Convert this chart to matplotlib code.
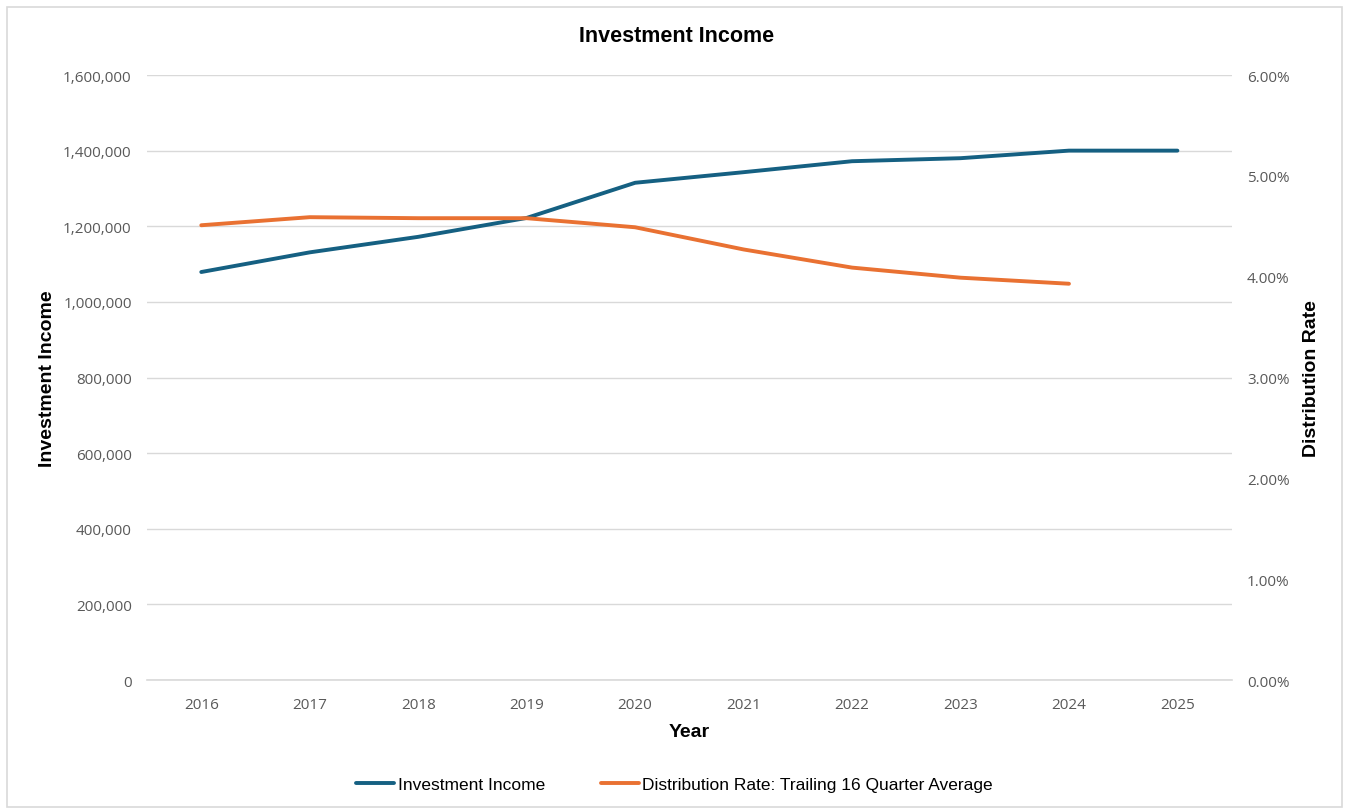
import matplotlib.pyplot as plt
from matplotlib.patches import Rectangle
from matplotlib.ticker import FuncFormatter

# data
years = ['2016', '2017', '2018', '2019', '2020', '2021', '2022', '2023', '2024', '2025']
income = [1079000, 1131000, 1172000, 1222000, 1315000, 1343000, 1372000, 1380000, 1400000, 1400000]
dist_years = ['2016', '2017', '2018', '2019', '2020', '2021', '2022', '2023', '2024']
dist_rate = [4.51, 4.59, 4.58, 4.58, 4.49, 4.27, 4.09, 3.99, 3.93]

blue = '#156082'
orange = '#E97132'
tick_grey = '#595959'
head = ['Liberation Sans', 'DejaVu Sans']

fig = plt.figure(figsize=(13.49, 8.12), dpi=100)
fig.patches.append(Rectangle((0.005, 0.005), 0.99, 0.985, transform=fig.transFigure,
                             fill=False, edgecolor='#d9d9d9', linewidth=1.2))
ax = fig.add_axes([0.109, 0.1613, 0.804, 0.7451])
ax2 = ax.twinx()

x = list(range(len(years)))
ln1, = ax.plot(x, income, color=blue, linewidth=2.8, solid_capstyle='round',
               label='Investment Income')
ln2, = ax2.plot(x[:len(dist_years)], dist_rate, color=orange, linewidth=2.8,
                solid_capstyle='round',
                label='Distribution Rate: Trailing 16 Quarter Average')

ax.set_xlim(-0.5, len(years) - 0.5)
ax.set_ylim(0, 1600000)
ax2.set_ylim(0, 6)
ax.set_yticks(range(0, 1600001, 200000))
ax2.set_yticks(range(0, 7))
ax.yaxis.set_major_formatter(FuncFormatter(lambda v, p: f'{v:,.0f}'))
ax2.yaxis.set_major_formatter(FuncFormatter(lambda v, p: f'{v:.2f}%'))
ax.set_xticks(x)
ax.set_xticklabels(years)

ax.grid(axis='y', color='#d9d9d9', linewidth=1)
ax.axhline(0, color='#d9d9d9', linewidth=1.2, clip_on=False, zorder=0)
ax.set_axisbelow(True)
for a in (ax, ax2):
    for s in a.spines.values():
        s.set_visible(False)
    a.tick_params(length=0, labelsize=11, labelcolor=tick_grey)
    for lab in a.get_xticklabels() + a.get_yticklabels():
        lab.set_family('Open Sans')
ax.tick_params(axis='y', pad=11)
ax2.tick_params(axis='y', pad=11)
ax.tick_params(axis='x', pad=12)

ax.set_xlabel('Year', family=head, fontsize=14, fontweight='bold', labelpad=8)
ax.set_ylabel('Investment Income', family=head, fontsize=14, fontweight='bold', labelpad=5)
ax2.set_ylabel('Distribution Rate', family=head, fontsize=14, fontweight='bold', labelpad=10)
fig.text(0.5015, 0.955, 'Investment Income', ha='center', va='center',
         family=head, fontsize=15.5, fontweight='bold')

fig.legend(handles=[ln1, ln2], loc='center', bbox_to_anchor=(0.5, 0.033), ncol=2,
           frameon=False, prop={'family': head, 'size': 12.5},
           handlelength=2.2, handletextpad=0.2, columnspacing=3.2)

fig.savefig('out.png', dpi=100)
